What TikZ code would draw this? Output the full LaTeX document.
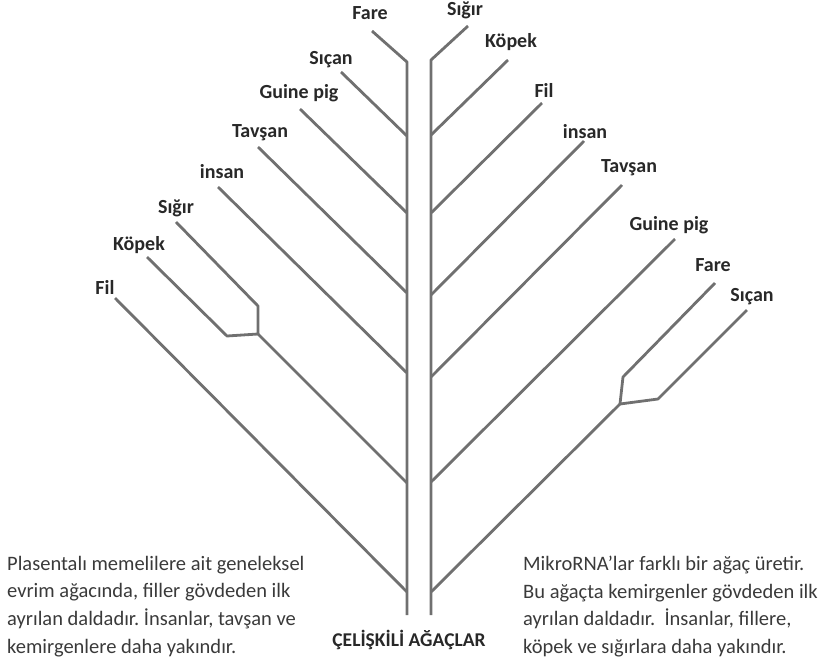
\documentclass[tikz,border=0pt]{standalone}
\usepackage{fontspec}
\setmainfont{Carlito}
\usetikzlibrary{positioning}
\definecolor{treegray}{RGB}{112,112,112}
\definecolor{labelink}{RGB}{40,40,40}
\definecolor{noteink}{RGB}{58,58,58}
\frenchspacing

\begin{document}
\begin{tikzpicture}[
    x=1pt, y=-1pt,
    branch/.style={draw=treegray, line width=2.8pt, line join=round},
    taxon/.style={font=\fontsize{20}{22}\selectfont\bfseries, text=labelink, inner sep=0pt},
    note/.style={font=\fontsize{20.5}{27.8}\selectfont, text=noteink, align=left, anchor=west, inner sep=0pt}
]
\useasboundingbox (0,0) rectangle (828,665);

% Left tree: taxon labels
\node[taxon] (lfare) at (370,13) {Fare};
\node[taxon] (lsican) at (331,60) {Sıçan};
\node[taxon] (lguine) at (299,93) {Guine pig};
\node[taxon] (ltavsan) at (260,133) {Tavşan};
\node[taxon] (linsan) at (222,172) {insan};
\node[taxon] (lsigir) at (176,208) {Sığır};
\node[taxon] (lkopek) at (139,245) {Köpek};
\node[taxon] (lfil) at (105,287) {Fil};

% Left tree: tips, joints and trunk
\coordinate (lfare-tip) at (372,31);
\coordinate (lsican-tip) at (341,72);
\coordinate (lguine-tip) at (300,109);
\coordinate (ltavsan-tip) at (258,147);
\coordinate (linsan-tip) at (218,187);
\coordinate (lsigir-tip) at (176,222);
\coordinate (lkopek-tip) at (147,257);
\coordinate (lfil-tip) at (115,298);
\coordinate (ltop) at (407,62);
\coordinate (lbottom) at (407,615);
\coordinate (lj1) at (407,136);
\coordinate (lj2) at (407,213);
\coordinate (lj3) at (407,293);
\coordinate (lj4) at (407,373);
\coordinate (lj5) at (407,483);
\coordinate (lj6) at (407,592);
\coordinate (lsigir-bend) at (258,306);
\coordinate (lkopek-bend) at (227,336);
\coordinate (lclade) at (258,334);

\draw[branch] (lfare-tip) -- (ltop) -- (lbottom);
\draw[branch] (lsican-tip) -- (lj1);
\draw[branch] (lguine-tip) -- (lj2);
\draw[branch] (ltavsan-tip) -- (lj3);
\draw[branch] (linsan-tip) -- (lj4);
\draw[branch] (lsigir-tip) -- (lsigir-bend) -- (lclade);
\draw[branch] (lkopek-tip) -- (lkopek-bend) -- (lclade);
\draw[branch] (lclade) -- (lj5);
\draw[branch] (lfil-tip) -- (lj6);

% Right tree: taxon labels
\node[taxon] (rsigir) at (465,10) {Sığır};
\node[taxon] (rkopek) at (511,42) {Köpek};
\node[taxon] (rfil) at (544,90) {Fil};
\node[taxon] (rinsan) at (585,132) {insan};
\node[taxon] (rtavsan) at (629,168) {Tavşan};
\node[taxon] (rguine) at (669,225) {Guine pig};
\node[taxon] (rfare) at (713,265) {Fare};
\node[taxon] (rsican) at (752,297) {Sıçan};

% Right tree: tips, joints and trunk
\coordinate (rsigir-tip) at (468,26);
\coordinate (rkopek-tip) at (508,60);
\coordinate (rfil-tip) at (542,103);
\coordinate (rinsan-tip) at (584,141);
\coordinate (rtavsan-tip) at (622,185);
\coordinate (rguine-tip) at (675,239);
\coordinate (rfare-tip) at (715,283);
\coordinate (rsican-tip) at (747,310);
\coordinate (rtop) at (431,60);
\coordinate (rbottom) at (431,615);
\coordinate (rj1) at (431,135);
\coordinate (rj2) at (431,213);
\coordinate (rj3) at (431,295);
\coordinate (rj4) at (431,377);
\coordinate (rj5) at (431,482);
\coordinate (rj6) at (431,592);
\coordinate (rfare-bend) at (623,377);
\coordinate (rsican-bend) at (658,399);
\coordinate (rclade) at (620,404);

\draw[branch] (rsigir-tip) -- (rtop) -- (rbottom);
\draw[branch] (rkopek-tip) -- (rj1);
\draw[branch] (rfil-tip) -- (rj2);
\draw[branch] (rinsan-tip) -- (rj3);
\draw[branch] (rtavsan-tip) -- (rj4);
\draw[branch] (rguine-tip) -- (rj5);
\draw[branch] (rfare-tip) -- (rfare-bend) -- (rclade);
\draw[branch] (rsican-tip) -- (rsican-bend) -- (rclade);
\draw[branch] (rclade) -- (rj6);

% Title
\node[font=\fontsize{19.5}{21}\selectfont\bfseries, text=labelink] (title) at (409,640) {ÇELİŞKİLİ AĞAÇLAR};

% Notes
\node[note] (leftnote) at (7,606.5) {Plasentalı memelilere ait geneleksel\\
evrim ağacında, filler gövdeden ilk\\
ayrılan daldadır. İnsanlar, tavşan ve\\
kemirgenlere daha yakındır.};
\node[note] (rightnote) at (523,606.5) {MikroRNA’lar farklı bir ağaç üretir.\\
Bu ağaçta kemirgenler gövdeden ilk\\
ayrılan daldadır.\ \ İnsanlar, fillere,\\
köpek ve sığırlara daha yakındır.};

\end{tikzpicture}
\end{document}
